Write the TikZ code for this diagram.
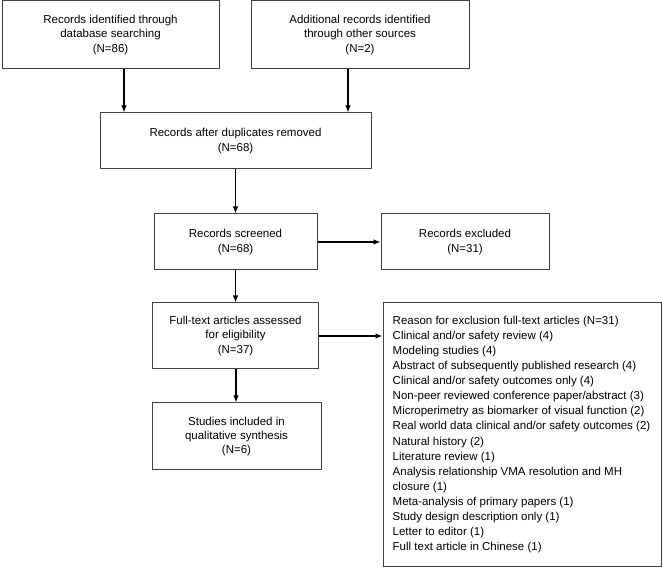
\documentclass[tikz,border=0pt]{standalone}
\usepackage{fontspec}
\setmainfont{Liberation Sans}
\usetikzlibrary{arrows.meta}
\begin{document}
\begin{tikzpicture}[x=1pt,y=-1pt,
  box/.style={draw=black!75,line width=1pt,rectangle,inner sep=0pt,align=center,
    font=\fontsize{11.5}{14.2}\selectfont},
  arr/.style={draw=black,line width=1.2pt,-{Latex[length=7pt,width=5.5pt]}}]
\useasboundingbox (0,0) rectangle (662,569);
\node[box,minimum width=217,minimum height=68] (b1) at (110.5,35) {Records identified through\\database searching\\(N=86)};
\node[box,minimum width=218,minimum height=68] (b2) at (360,35) {Additional records identified\\through other sources\\(N=2)};
\node[box,minimum width=271,minimum height=56] (b3) at (235.5,141) {Records after duplicates removed\\(N=68)};
\node[box,minimum width=163,minimum height=56] (b4) at (235.5,242) {Records screened\\(N=68)};
\node[box,minimum width=168,minimum height=56] (b5) at (465,242) {Records excluded\\(N=31)};
\node[box,minimum width=166,minimum height=66] (b6) at (235.5,336) {Full-text articles assessed\\for eligibility\\(N=37)};
\node[box,minimum width=169,minimum height=67] (b7) at (236.5,436.5) {Studies included in\\qualitative synthesis\\(N=6)};
\node[box,minimum width=278,minimum height=263] (b8) at (522,434.5) {};
\node[anchor=west,align=left,inner sep=0pt,font=\fontsize{11.5}{15.1}\selectfont] (b8t) at ([xshift=10pt]b8.west) {Reason for exclusion full-text articles (N=31)\\
Clinical and/or safety review (4)\\
Modeling studies (4)\\
Abstract of subsequently published research (4)\\
Clinical and/or safety outcomes only (4)\\
Non-peer reviewed conference paper/abstract (3)\\
Microperimetry as biomarker of visual function (2)\\
Real world data clinical and/or safety outcomes (2)\\
Natural history (2)\\
Literature review (1)\\
Analysis relationship VMA resolution and MH\\
closure (1)\\
Meta-analysis of primary papers (1)\\
Study design description only (1)\\
Letter to editor (1)\\
Full text article in Chinese (1)};
\draw[arr] ([xshift=13.5pt]b1.south) -- ([xshift=13.5pt]b1.south |- b3.north);
\draw[arr] ([xshift=-12pt]b2.south) -- ([xshift=-12pt]b2.south |- b3.north);
\draw[arr] (b3.south) -- (b4.north);
\draw[arr] (b4.east) -- (b5.west);
\draw[arr] (b4.south) -- (b4.south |- b6.north);
\draw[arr] (b6.east) -- (b6.east -| b8.west);
\draw[arr] ([xshift=0.5pt]b6.south) -- ([xshift=0.5pt]b6.south |- b7.north);
\end{tikzpicture}
\end{document}
